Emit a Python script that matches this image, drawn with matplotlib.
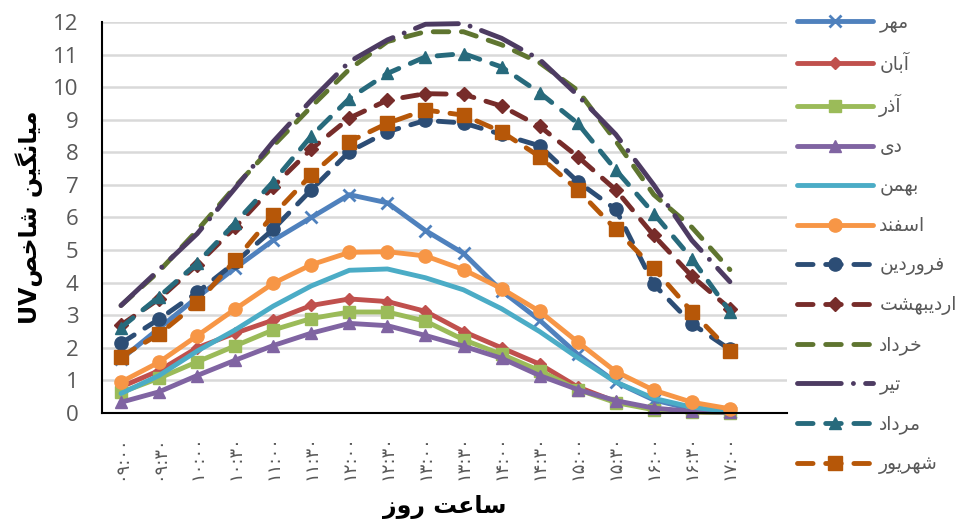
import matplotlib
matplotlib.use("Agg")
import matplotlib.pyplot as plt

# ---- data (UV index by half hour, per month) ----
hours = ["۰۹:۰۰", "۰۹:۳۰", "۱۰:۰۰", "۱۰:۳۰", "۱۱:۰۰", "۱۱:۳۰", "۱۲:۰۰", "۱۲:۳۰", "۱۳:۰۰",
         "۱۳:۳۰", "۱۴:۰۰", "۱۴:۳۰", "۱۵:۰۰", "۱۵:۳۰", "۱۶:۰۰", "۱۶:۳۰", "۱۷:۰۰"]
months = ["مهر", "آبان", "آذر", "دی", "بهمن", "اسفند",
          "فروردین", "اردیبهشت", "خرداد", "تیر", "مرداد", "شهریور"]

mehr = [1.65, 2.6, 3.55, 4.45, 5.3, 6.0, 6.7, 6.45, 5.6, 4.9, 3.75, 2.85, 1.8, 0.95, 0.4, 0.12, 0.03]
aban = [0.8, 1.3, 2.0, 2.45, 2.85, 3.3, 3.5, 3.42, 3.12, 2.5, 2.0, 1.5, 0.8, 0.35, 0.12, 0.04, 0.01]
azar = [0.63, 1.07, 1.57, 2.06, 2.55, 2.9, 3.1, 3.1, 2.82, 2.25, 1.8, 1.3, 0.72, 0.32, 0.1, 0.03, 0.01]
dey = [0.33, 0.65, 1.15, 1.62, 2.07, 2.45, 2.75, 2.68, 2.38, 2.05, 1.68, 1.15, 0.72, 0.38, 0.15, 0.05, 0.02]
bahman = [0.6, 1.15, 1.9, 2.55, 3.28, 3.9, 4.38, 4.42, 4.15, 3.78, 3.2, 2.5, 1.7, 0.95, 0.45, 0.18, 0.04]
esfand = [0.95, 1.56, 2.37, 3.19, 3.98, 4.55, 4.93, 4.95, 4.82, 4.4, 3.82, 3.12, 2.18, 1.27, 0.7, 0.33, 0.13]
farvardin = [2.14, 2.88, 3.7, 4.62, 5.64, 6.85, 8.02, 8.63, 8.98, 8.9, 8.55, 8.2, 7.1, 6.25, 3.95, 2.74, 1.95]
ordibehesht = [2.7, 3.5, 4.55, 5.7, 6.95, 8.1, 9.05, 9.6, 9.8, 9.78, 9.42, 8.8, 7.87, 6.85, 5.45, 4.2, 3.2]
khordad = [3.3, 4.35, 5.6, 6.95, 8.2, 9.4, 10.55, 11.4, 11.7, 11.7, 11.3, 10.75, 9.9, 8.35, 6.7, 5.7, 4.4]
tir = [3.3, 4.4, 5.5, 6.9, 8.33, 9.6, 10.78, 11.45, 11.93, 11.95, 11.5, 10.85, 9.75, 8.55, 7.0, 5.3, 4.03]
mordad = [2.62, 3.57, 4.6, 5.83, 7.1, 8.5, 9.65, 10.42, 10.93, 11.03, 10.62, 9.83, 8.89, 7.46, 6.12, 4.74, 3.11]
shahrivar = [1.73, 2.42, 3.37, 4.69, 6.08, 7.31, 8.33, 8.89, 9.3, 9.14, 8.63, 7.87, 6.85, 5.64, 4.44, 3.11, 1.91]

series = [mehr, aban, azar, dey, bahman, esfand,
          farvardin, ordibehesht, khordad, tir, mordad, shahrivar]

# ---- minimal Persian shaping (matplotlib has no bidi / joining) ----
FORMS = {
    "ا": "\uFE8D\uFE8E", "آ": "\uFE81\uFE82", "د": "\uFEA9\uFEAA", "ذ": "\uFEAB\uFEAC",
    "ر": "\uFEAD\uFEAE", "ز": "\uFEAF\uFEB0", "و": "\uFEED\uFEEE",
    "ب": "\uFE8F\uFE90\uFE91\uFE92", "ت": "\uFE95\uFE96\uFE97\uFE98",
    "خ": "\uFEA5\uFEA6\uFEA7\uFEA8", "س": "\uFEB1\uFEB2\uFEB3\uFEB4",
    "ش": "\uFEB5\uFEB6\uFEB7\uFEB8", "ص": "\uFEB9\uFEBA\uFEBB\uFEBC",
    "ع": "\uFEC9\uFECA\uFECB\uFECC", "ف": "\uFED1\uFED2\uFED3\uFED4",
    "م": "\uFEE1\uFEE2\uFEE3\uFEE4", "ن": "\uFEE5\uFEE6\uFEE7\uFEE8",
    "ه": "\uFEE9\uFEEA\uFEEB\uFEEC", "ی": "\uFBFC\uFBFD\uFBFE\uFBFF",
    "گ": "\uFB92\uFB93\uFB94\uFB95",
}


def fa(text):
    out = []
    for k, ch in enumerate(text):
        if ch not in FORMS:
            out.append(ch)
            continue
        prev = text[k - 1] if k > 0 else ""
        nxt = text[k + 1] if k + 1 < len(text) else ""
        jp = prev in FORMS and len(FORMS[prev]) == 4
        jn = len(FORMS[ch]) == 4 and nxt in FORMS
        idx = (3 if jn else 1) if jp else (2 if jn else 0)
        out.append(FORMS[ch][idx])
    return "".join(out)[::-1]


colors = ["#4F81BD", "#C0504D", "#9BBB59", "#8064A2", "#4BACC6", "#F79646",
          "#2C4D75", "#772C2A", "#5F7530", "#4D3B62", "#276A7C", "#B65708"]
markers = ["x", "D", "s", "^", None, "o", "o", "D", None, None, "^", "s"]
msizes = [8, 6.5, 8.5, 8.5, 0, 9.5, 9.5, 7, 0, 0, 9, 9.5]
dashed = (3.2, 2.6)
styles = [None] * 6 + [dashed, dashed, dashed, (9, 2.5, 0.01, 2.5), dashed, dashed]

plt.rcParams["font.family"] = ["DejaVu Sans"]

fig = plt.figure(figsize=(9.6, 5.22), dpi=100)
ax = fig.add_axes([0.10625, 0.2088, 0.7135, 0.7491])

x = list(range(len(hours)))
for i in range(len(series)):
    line, = ax.plot(x, series[i], color=colors[i], lw=3.5, marker=markers[i],
                    markersize=msizes[i], markeredgecolor=colors[i],
                    markeredgewidth=2 if markers[i] == "x" else 1,
                    solid_capstyle="round", dash_capstyle="round",
                    label=fa(months[i]), clip_on=False)
    if styles[i] is not None:
        line.set_dashes(styles[i])

ax.set_xlim(-0.5, 17.5)
ax.set_ylim(0, 12)
ax.set_yticks(range(0, 13))
ax.set_xticks(x)
ax.set_xticklabels(hours, rotation=90, fontsize=13, color="#595959")
ax.tick_params(axis="y", length=0, pad=17, labelsize=16, labelcolor="#595959")
ax.tick_params(axis="x", length=0, pad=16)
for t in ax.get_yticklabels():
    t.set_family("Open Sans")
ax.grid(axis="y", color="#D9D9D9", lw=1.8)
ax.set_axisbelow(True)
for s in ["top", "right"]:
    ax.spines[s].set_visible(False)
ax.spines["left"].set_linewidth(1.5)
ax.spines["bottom"].set_linewidth(1.5)

ax.set_xlabel(fa("ساعت روز"), fontsize=17, fontweight="bold", labelpad=11)
ax.set_ylabel("UV" + fa("میانگین شاخص"), fontsize=17, fontweight="bold", labelpad=7)

leg = ax.legend(loc="upper left", bbox_to_anchor=(0.830, 0.975),
                bbox_transform=fig.transFigure, frameon=False, fontsize=13.5,
                handlelength=4.05, handletextpad=0.35, labelspacing=1.07,
                borderpad=0, borderaxespad=0, numpoints=1)
for t in leg.get_texts():
    t.set_color("#595959")

fig.savefig("out.png", dpi=100)
